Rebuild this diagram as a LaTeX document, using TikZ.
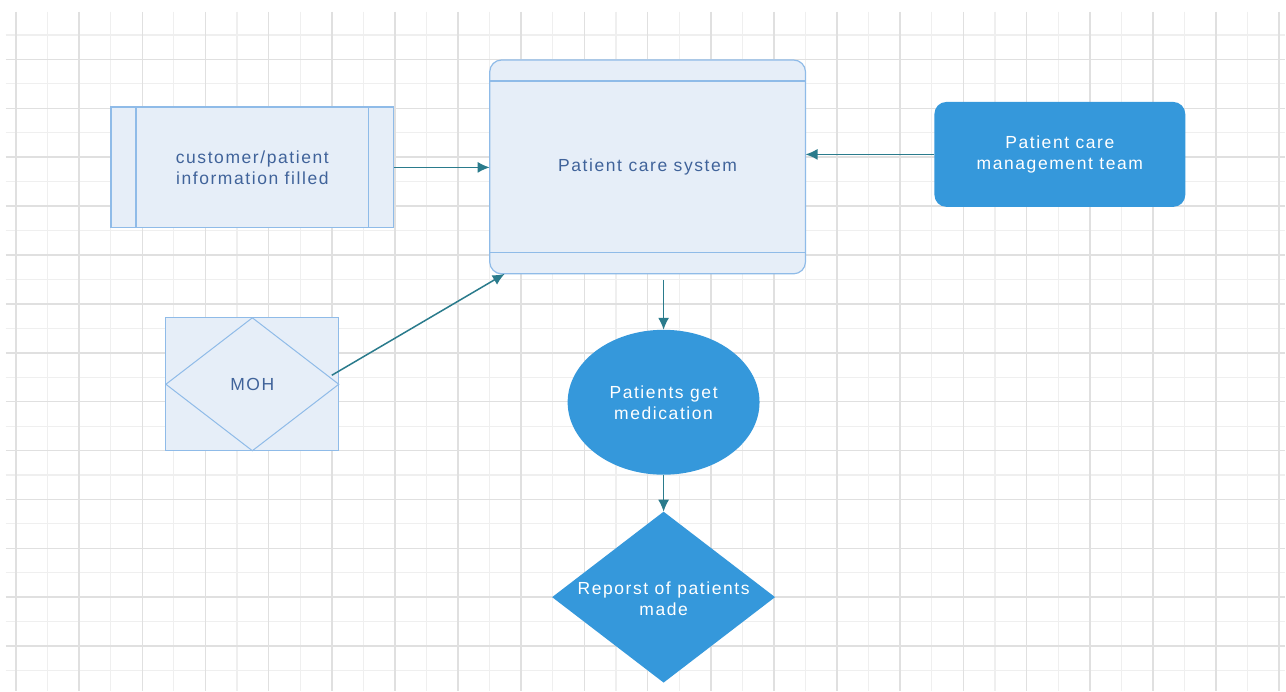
\documentclass[tikz,border=0pt]{standalone}
\usepackage{fontspec}
\usetikzlibrary{arrows.meta,shapes.geometric}
\newfontfamily\diagfont[LetterSpace=9]{Liberation Sans}
\definecolor{gridminor}{HTML}{EFEFEF}
\definecolor{gridmajor}{HTML}{E0E0E0}
\definecolor{boxfill}{HTML}{E6EEF8}
\definecolor{boxline}{HTML}{8FBBE8}
\definecolor{boxtext}{HTML}{40639A}
\definecolor{bluefill}{HTML}{3598DB}
\definecolor{flowline}{HTML}{2A7B8C}
\begin{document}
\begin{tikzpicture}[x=1pt,y=-1pt,
    diagtext/.style={align=center,font=\diagfont\fontsize{17.5}{21}\selectfont},
    lightbox/.style={diagtext,draw=boxline,fill=boxfill,line width=1.2pt,text=boxtext,outer sep=0pt},
    bluebox/.style={diagtext,fill=bluefill,draw=none,text=white,outer sep=0pt},
    flow/.style={draw=flowline,line width=1.5pt,-{Latex[length=12pt,width=11pt]}}]
    \fill[white] (0,0) rectangle (1286,691);
    \foreach \j in {0,2,...,26}
        \draw[gridminor,line width=1.2pt] (6,{35+24.46*\j}) -- (1286,{35+24.46*\j});
    \foreach \i in {1,3,...,39}
        \draw[gridminor,line width=1.2pt] ({16+31.6*\i},12) -- ({16+31.6*\i},691);
    \foreach \j in {1,3,...,25}
        \draw[gridmajor,line width=1.6pt] (6,{35+24.46*\j}) -- (1286,{35+24.46*\j});
    \foreach \i in {0,2,...,40}
        \draw[gridmajor,line width=1.6pt] ({16+31.6*\i},12) -- ({16+31.6*\i},691);

    \node[lightbox,minimum width=283pt,minimum height=121pt] (info) at (252.5,167.5) {customer/patient\\information filled};
    \draw[boxline,line width=1.2pt] ([xshift=25pt]info.north west) -- ([xshift=25pt]info.south west)
        ([xshift=-25pt]info.north east) -- ([xshift=-25pt]info.south east);
    \node[lightbox,rounded corners=12pt,minimum width=316pt,minimum height=214pt] (pcs) at (648,167) {Patient care system};
    \draw[boxline,line width=1.2pt] ([yshift=-21pt]pcs.north west) -- ([yshift=-21pt]pcs.north east)
        ([yshift=21pt]pcs.south west) -- ([yshift=21pt]pcs.south east);
    \node[bluebox,rounded corners=12pt,minimum width=251pt,minimum height=105pt] (team) at (1060.5,154.5) {Patient care\\management team};
    \node[lightbox,minimum width=173pt,minimum height=133pt] (moh) at (252.5,384.5) {MOH};
    \draw[boxline,line width=1pt] (moh.north) -- (moh.east) -- (moh.south) -- (moh.west) -- cycle;
    \node[bluebox,ellipse,inner sep=0pt,minimum width=192pt,minimum height=145pt] (med) at (664,402.5) {Patients get\\medication};
    \node[bluebox,diamond,inner sep=0pt,minimum width=223pt,minimum height=171pt] (report) at (664,597.5) {};
    \node[diagtext,text=white] (reporttext) at ([yshift=-2pt]report.center) {Reporst of patients\\made};

    \draw[flow] (info.east) -- (info.east -| pcs.west);
    \draw[flow] (team.west) -- (team.west -| pcs.east);
    \draw[flow] ([shift={(-7pt,9pt)}]moh.east) -- ([xshift=15pt]pcs.south west);
    \draw[flow,shorten <=6pt] (pcs.south -| med.north) -- (med.north);
    \draw[flow] (med.south) -- (report.north);
\end{tikzpicture}
\end{document}
